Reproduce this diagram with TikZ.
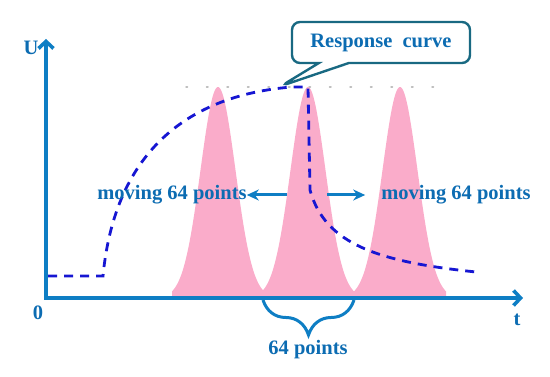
\documentclass[tikz,border=0pt]{standalone}
\usepackage{fontspec}
\setmainfont{Liberation Serif}
\usetikzlibrary{arrows.meta,shapes.callouts,decorations.pathreplacing}
\definecolor{axisblue}{RGB}{14,126,196}
\definecolor{textblue}{RGB}{12,108,178}
\definecolor{curveblue}{RGB}{22,22,210}
\definecolor{peakpink}{RGB}{250,172,202}
\definecolor{calloutteal}{RGB}{25,105,130}
\tikzset{
  axisline/.style={draw=axisblue, line width=3.6pt,
    {Straight Barb[length=7pt,width=15pt]}-{Straight Barb[length=7pt,width=15pt]}},
  lbl/.style={font=\fontsize{20.5}{24}\selectfont\bfseries, text=textblue, inner sep=0pt},
  peak/.style={fill=peakpink, draw=none},
  resp/.style={draw=curveblue, line width=2.8pt, dash pattern=on 9pt off 7pt},
  movarrow/.style={draw=axisblue, line width=3pt, -{Stealth[length=12pt,width=11pt]}},
  bracket/.style={draw=axisblue, line width=3pt, decorate,
    decoration={brace, mirror, amplitude=35pt}},
  balloon/.style={rectangle callout, draw=calloutteal, line width=2.4pt, fill=white,
    rounded corners=8pt, minimum width=178pt, minimum height=41pt,
    callout pointer width=30pt, font=\fontsize{20.5}{24}\selectfont\bfseries, text=textblue}
}
\begin{document}
\begin{tikzpicture}[x=1pt,y=1pt]
    \useasboundingbox (0,0) rectangle (550,377);
    \draw[gray!50, line width=1.5pt, dash pattern=on 1.5pt off 19pt, line cap=round]
      (186,290) -- (450,290);
    \foreach \c/\lo/\hi in {218/172/264, 308/262/354, 400/354/446}
      \fill[peak] (\lo,79) -- plot[domain=\lo:\hi, samples=80]
        (\x,{79+211*exp(-((\x-\c)^2)/612)}) -- (\hi,79) -- cycle;
    \coordinate (ytop) at (46,338);
    \coordinate (orig) at (46,79);
    \coordinate (xend) at (523,79);
    \draw[axisline] (ytop) -- (orig) -- (xend);
    \node[lbl] (ulab) at (31,329) {U};
    \node[lbl] (tlab) at (517,57) {t};
    \node[lbl] (zero) at (38,64) {0};
    \draw[resp] (48,101) -- (103,101) .. controls (115,227) and (190,282) .. (292,290)
      -- (308,290) -- (310,187) .. controls (325,132) and (380,115) .. (476,105);
    \coordinate (tip) at (281,291);
    \node[balloon, callout absolute pointer={(tip)}] (respbox) at (381,334.5) {Response\ \ curve};
    \node[lbl] (movl) at (172,182) {moving 64 points};
    \node[lbl] (movr) at (456,182) {moving 64 points};
    \coordinate (al) at (287,182);
    \coordinate (ar) at (327,182);
    \draw[movarrow] (al) -- (movl.east);
    \draw[movarrow] (ar) -- ([xshift=-16pt]movr.west);
    \coordinate (bl) at (263,77);
    \coordinate (br) at (354,77);
    \draw[bracket] (bl) -- (br);
    \node[lbl] (pts) at (308,27) {64 points};
  \end{tikzpicture}
\end{document}
